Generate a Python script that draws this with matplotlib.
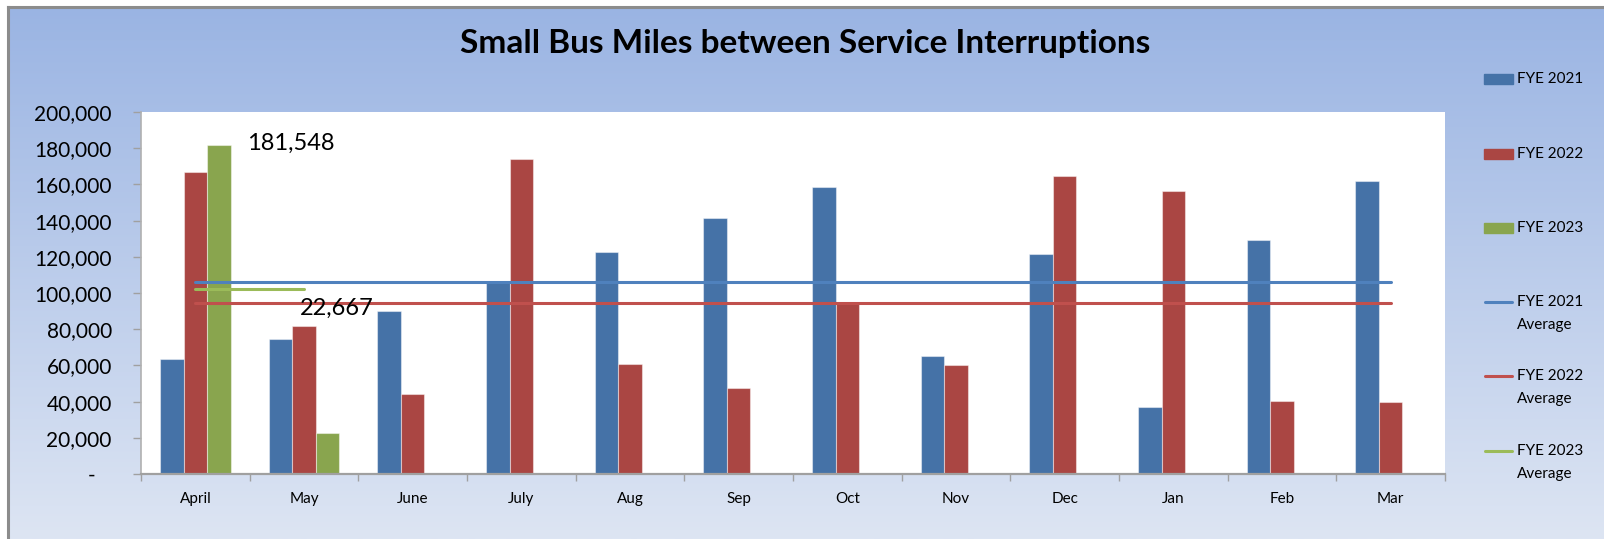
import numpy as np
import matplotlib
matplotlib.use("Agg")
import matplotlib.pyplot as plt
from matplotlib.lines import Line2D
from matplotlib.patches import Rectangle
from matplotlib.ticker import FuncFormatter

# ---- data ----
months = ['April', 'May', 'June', 'July', 'Aug', 'Sep', 'Oct', 'Nov', 'Dec', 'Jan', 'Feb', 'Mar']
fye2021 = [63700, 74600, 89900, 106800, 122800, 141400, 158800, 65200, 121300, 36800, 129500, 161700]
fye2022 = [167000, 81800, 44200, 173900, 60800, 47500, 94500, 60000, 164600, 156400, 40500, 39600]
fye2023 = [181548, 22667]
avg2021 = 106000
avg2022 = 94300
avg2023 = 102100
series_names = ['FYE 2021', 'FYE 2022', 'FYE 2023']
avg_names = ['FYE 2021\nAverage', 'FYE 2022\nAverage', 'FYE 2023\nAverage']

plt.rcParams['font.family'] = ['Lato', 'DejaVu Sans']

W, H = 1604, 539
fig = plt.figure(figsize=(W / 100, H / 100), dpi=100)
fig.patch.set_facecolor('white')

def fx(px):
    return px / W

def fy(py):
    return 1 - py / H

# background gradient
bg = fig.add_axes([fx(8), 0, 1 - fx(8), fy(7)], zorder=-10)
top = np.array([154, 180, 227]) / 255
bot = np.array([221, 229, 243]) / 255
t = np.linspace(0, 1, 256)[:, None]
grad = top[None, :] * (1 - t) + bot[None, :] * t
bg.imshow(grad[:, None, :], aspect='auto', extent=[0, 1, 0, 1])
bg.set_axis_off()
# border
fig.add_artist(Line2D([fx(8), fx(8)], [0, fy(7)], color='#8c8c8c', lw=2.2))
fig.add_artist(Line2D([fx(8), 1], [fy(7), fy(7)], color='#8c8c8c', lw=2.2))

# main axes
ax = fig.add_axes([fx(141), fy(474), fx(1445 - 141), (474 - 112) / H])
ax.set_facecolor('white')

c_bar = ['#4572A7', '#AA4643', '#89A54E']
c_line = ['#4F81BD', '#C0504D', '#9BBB59']
bw = 0.217
x = np.arange(len(months))
ax.bar(x - bw, fye2021, width=bw, color=c_bar[0], edgecolor=(1, 1, 1, 0.45), lw=0.8, zorder=2)
ax.bar(x, fye2022, width=bw, color=c_bar[1], edgecolor=(1, 1, 1, 0.45), lw=0.8, zorder=2)
x3 = np.arange(len(fye2023))
ax.bar(x3 + bw, fye2023, width=bw, color=c_bar[2], edgecolor=(1, 1, 1, 0.45), lw=0.8, zorder=2)

ax.plot([x[0], x[-1]], [avg2021] * 2, color=c_line[0], lw=2.2, solid_capstyle='round', zorder=3)
ax.plot([x[0], x[-1]], [avg2022] * 2, color=c_line[1], lw=2.2, solid_capstyle='round', zorder=3)
ax.plot([x3[0], x3[-1]], [avg2023] * 2, color=c_line[2], lw=2.2, solid_capstyle='round', zorder=3)

# data labels
ax.annotate(f'{fye2023[0]:,}', xy=(x3[0] + bw, fye2023[0]), xytext=(28, 2),
            textcoords='offset pixels', ha='left', va='center', fontsize=17, color='black')
ax.annotate(f'{fye2023[1]:,}', xy=(x3[1] + bw, fye2023[1]), xytext=(9, 125),
            textcoords='offset pixels', ha='center', va='center', fontsize=17, color='black')

ax.set_xlim(-0.5, len(months) - 0.5)
ax.set_ylim(0, 200000)
ax.set_yticks(np.arange(0, 200001, 20000))
ax.yaxis.set_major_formatter(FuncFormatter(lambda v, p: '-   ' if v == 0 else f'{int(v):,}'))
ax.tick_params(axis='y', length=6, width=1, color='#a0a0a0', pad=15, labelsize=15)
ax.set_xticks(x)
ax.set_xticklabels(months)
ax.set_xticks(np.arange(-0.5, len(months), 1), minor=True)
ax.tick_params(axis='x', which='major', length=0, pad=13, labelsize=11)
ax.tick_params(axis='x', which='minor', length=5, width=1, color='#a0a0a0')
for s in ['top', 'right']:
    ax.spines[s].set_visible(False)
ax.spines['left'].set_color('#b0b0b0')
ax.spines['bottom'].set_color('#a0a0a0')
ax.spines['left'].set_linewidth(1.2)
ax.spines['bottom'].set_linewidth(1.6)

# title
fig.text(fx(805), fy(44), 'Small Bus Miles between Service Interruptions', ha='center', va='center',
         fontsize=24, fontweight='bold', color='black')

# legend (manual)
ys = [79, 154, 228, 302, 376, 451]
for i in range(3):
    fig.add_artist(Rectangle((fx(1484), fy(ys[i] + 5)), fx(29), 10 / H, color=c_bar[i], transform=fig.transFigure))
    fig.text(fx(1517), fy(ys[i]), series_names[i], ha='left', va='center', fontsize=11)
for i in range(3):
    y0 = ys[3 + i]
    fig.add_artist(Line2D([fx(1485), fx(1512)], [fy(y0), fy(y0)], color=c_line[i], lw=2.2,
                          solid_capstyle='round'))
    first, second = avg_names[i].split('\n')
    fig.text(fx(1517), fy(y0), first, ha='left', va='center', fontsize=11)
    fig.text(fx(1517), fy(y0 + 23), second, ha='left', va='center', fontsize=11)

fig.savefig('out.png', dpi=100, facecolor=fig.get_facecolor())
